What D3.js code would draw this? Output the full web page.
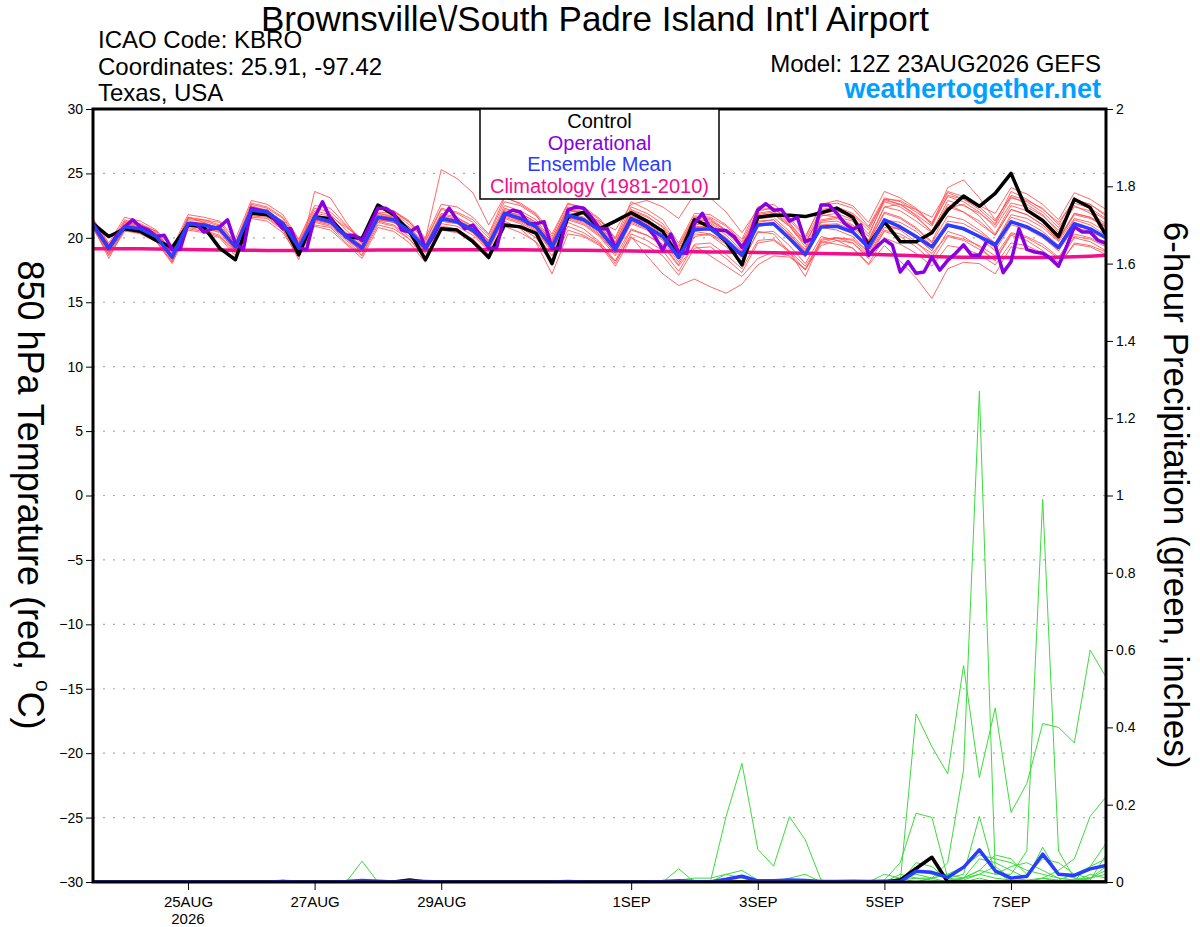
<!DOCTYPE html>
<html>
<head>
<meta charset="utf-8">
<script src="https://cdn.jsdelivr.net/npm/d3@7/dist/d3.min.js"></script>
<style>
body { margin: 0; background: #fff; }
svg { font-family: "Liberation Sans", Arial, sans-serif; display: block; }
</style>
</head>
<body>
<script>
// 6-hourly GEFS steps from 12Z 23AUG2026 (operational run is 3-hourly)
var stepHours = 6;
var opStepHours = 3;

var tickHours = [36, 84, 132, 204, 252, 300, 348];
var tickLabels = ['25AUG', '27AUG', '29AUG', '1SEP', '3SEP', '5SEP', '7SEP'];
var tempTicks = [-30, -25, -20, -15, -10, -5, 0, 5, 10, 15, 20, 25, 30];
var gridTemps = [-25, -20, -15, -10, -5, 0, 5, 10, 15, 20, 25];
var precipTicks = [0, 0.2, 0.4, 0.6, 0.8, 1, 1.2, 1.4, 1.6, 1.8, 2];

var controlTemp = [
	21.1, 20.1, 20.7, 20.5, 19.8, 19.25, 21.0, 20.85,
	19.2, 18.3, 21.9, 21.8, 21.1, 18.7, 21.6, 21.5,
	20.1, 19.95, 22.55, 21.8, 20.5, 18.3, 20.7, 20.6,
	19.7, 18.5, 21.0, 20.85, 20.35, 18.0, 21.6, 22.0,
	20.7, 21.3, 21.95, 21.3, 20.5, 18.5, 21.4, 20.85,
	19.7, 17.9, 21.6, 21.75, 21.75, 21.65, 21.95, 22.3,
	21.6, 19.45, 21.25, 19.7, 19.7, 20.4, 22.15, 23.25,
	22.45, 23.45, 25.0, 22.15, 21.35, 20.1, 23.0, 22.35,
	20.2
];

var meanTemp = [
	21.0, 19.2, 20.85, 20.7, 20.1, 18.5, 21.1, 21.0,
	20.7, 19.3, 22.15, 22.0, 21.1, 19.25, 21.6, 21.25,
	20.1, 19.2, 21.6, 21.4, 20.5, 19.2, 21.5, 21.25,
	20.6, 19.45, 21.9, 21.5, 20.85, 19.3, 21.75, 21.4,
	20.6, 19.1, 21.5, 20.85, 20.1, 18.5, 20.65, 20.7,
	19.8, 18.65, 21.0, 21.1, 19.95, 18.7, 20.85, 20.9,
	20.45, 19.25, 21.4, 20.85, 20.1, 19.3, 21.0, 20.7,
	20.1, 19.45, 21.25, 20.85, 20.2, 19.25, 21.1, 20.7,
	20.0
];

var operTemp = [
	21.1, 20.1, 19.2, 20.2, 20.85, 21.4, 20.85, 20.6,
	20.1, 20.2, 19.1, 19.1, 21.1, 21.1, 20.45, 20.7,
	20.85, 21.4, 19.55, 19.1, 22.3, 22.15, 22.0, 21.4,
	20.7, 20.7, 19.2, 19.1, 21.6, 22.8, 21.5, 20.6,
	20.2, 20.2, 19.8, 21.0, 22.3, 22.3, 21.9, 20.6,
	20.45, 20.85, 19.2, 20.1, 21.4, 22.3, 21.4, 20.7,
	21.0, 20.2, 19.2, 19.2, 21.75, 22.15, 22.0, 21.1,
	21.1, 21.25, 19.2, 19.2, 22.15, 22.4, 22.3, 21.6,
	20.7, 20.7, 19.2, 20.35, 21.5, 21.25, 20.85, 20.1,
	19.05, 20.3, 18.85, 18.8, 21.1, 21.9, 20.7, 20.6,
	20.55, 20.1, 19.25, 20.2, 22.15, 22.65, 22.15, 22.2,
	21.3, 21.6, 19.7, 19.95, 22.55, 22.55, 21.9, 21.1,
	20.65, 21.0, 18.65, 19.3, 19.85, 19.45, 17.35, 18.15,
	17.25, 17.35, 18.5, 17.5, 18.25, 18.8, 19.45, 18.65,
	18.65, 19.8, 19.45, 17.3, 18.15, 20.7, 19.1, 18.9,
	18.8, 18.4, 17.8, 19.3, 20.85, 20.45, 20.45, 19.8,
	19.6
];

var climTemp = [
	19.15, 19.15, 19.16, 19.15, 19.14, 19.12, 19.1, 19.08,
	19.06, 19.04, 19.03, 19.02, 19.02, 19.02, 19.03, 19.03,
	19.03, 19.04, 19.05, 19.05, 19.06, 19.06, 19.07, 19.07,
	19.07, 19.07, 19.07, 19.07, 19.06, 19.05, 19.04, 19.03,
	19.02, 19.0, 18.98, 18.96, 18.94, 18.93, 18.92, 18.91,
	18.9, 18.89, 18.87, 18.85, 18.83, 18.81, 18.79, 18.77,
	18.75, 18.72, 18.69, 18.65, 18.6, 18.55, 18.52, 18.5,
	18.49, 18.48, 18.47, 18.47, 18.48, 18.5, 18.53, 18.58,
	18.65
];

var memberTemps = [
	[21.2, 19.0, 21.3, 20.9, 20.4, 18.8, 21.6, 21.2,
	20.6, 19.1, 22.6, 22.3, 21.5, 19.6, 22.1, 21.8,
	20.6, 19.5, 22.0, 21.9, 21.0, 19.8, 22.3, 22.0,
	21.4, 20.2, 22.8, 22.5, 21.7, 20.1, 22.6, 22.4,
	21.5, 20.0, 22.8, 22.2, 21.4, 19.6, 21.9, 21.8,
	21.0, 19.9, 22.4, 22.6, 21.6, 20.1, 22.5, 22.7,
	22.3, 20.9, 23.1, 22.8, 22.0, 21.2, 23.5, 23.0,
	22.4, 21.3, 23.3, 22.9, 22.3, 21.0, 23.0, 22.6,
	21.8],
	[20.8, 18.6, 20.5, 20.4, 19.7, 18.2, 20.7, 20.5,
	20.1, 18.8, 21.6, 21.5, 20.6, 18.7, 21.0, 20.8,
	19.6, 18.6, 21.0, 20.7, 19.9, 18.5, 20.8, 20.6,
	19.9, 18.7, 21.1, 20.8, 20.0, 18.3, 20.9, 20.4,
	19.6, 18.0, 20.3, 19.8, 19.0, 17.4, 19.5, 19.6,
	18.7, 17.6, 19.8, 19.9, 19.0, 17.8, 19.7, 19.5,
	19.2, 18.0, 20.0, 19.5, 18.8, 17.8, 19.4, 19.2,
	18.7, 17.9, 19.6, 19.4, 18.8, 17.9, 19.5, 19.3,
	18.7],
	[21.4, 19.5, 21.0, 21.1, 20.5, 18.9, 21.5, 21.4,
	21.2, 19.6, 22.5, 22.1, 21.3, 19.7, 21.9, 21.7,
	20.8, 19.9, 22.4, 22.0, 21.2, 19.9, 25.3, 24.6,
	23.5, 21.0, 23.2, 22.6, 21.8, 19.9, 22.3, 21.9,
	21.0, 19.5, 21.8, 21.1, 20.3, 18.8, 21.0, 21.2,
	20.4, 19.2, 21.6, 21.8, 20.9, 19.3, 21.4, 21.6,
	21.3, 19.8, 22.4, 22.1, 21.3, 20.4, 22.6, 22.0,
	21.1, 20.2, 22.2, 21.8, 21.0, 19.8, 21.8, 21.5,
	20.9],
	[20.9, 19.1, 20.7, 20.5, 19.9, 18.3, 20.9, 20.8,
	20.4, 19.0, 21.9, 21.7, 20.8, 18.9, 21.3, 21.0,
	19.9, 18.9, 21.3, 21.0, 20.1, 18.8, 21.1, 20.9,
	20.2, 19.0, 21.5, 21.1, 20.3, 18.6, 21.2, 20.7,
	19.7, 18.2, 20.1, 18.6, 17.2, 16.3, 16.8, 16.2,
	15.7, 16.4, 17.9, 18.6, 18.5, 17.6, 19.4, 19.8,
	19.6, 18.6, 20.6, 20.3, 19.6, 18.8, 20.2, 19.9,
	19.4, 18.6, 20.4, 20.1, 19.5, 18.5, 20.3, 20.0,
	19.4],
	[21.0, 19.3, 21.1, 20.8, 20.2, 18.6, 21.3, 21.1,
	20.5, 19.4, 22.3, 22.2, 21.2, 19.4, 21.7, 21.4,
	20.3, 19.4, 21.8, 21.5, 20.6, 19.3, 21.6, 21.4,
	20.7, 19.6, 22.1, 21.7, 21.1, 19.5, 22.0, 21.6,
	20.8, 19.3, 21.7, 21.3, 20.5, 18.9, 21.3, 21.1,
	20.2, 19.0, 21.5, 21.6, 20.5, 19.1, 21.7, 21.9,
	21.4, 20.1, 23.0, 22.9, 22.2, 21.0, 23.9, 24.5,
	23.1, 21.4, 23.2, 22.6, 21.8, 20.4, 22.7, 22.3,
	21.5],
	[21.1, 18.9, 20.8, 20.6, 20.0, 18.4, 21.0, 20.9,
	20.6, 19.2, 22.1, 21.9, 21.0, 19.1, 21.5, 21.2,
	20.0, 19.0, 21.5, 21.3, 20.4, 19.0, 21.3, 21.1,
	20.4, 19.2, 21.7, 21.3, 20.6, 19.0, 21.5, 21.1,
	20.2, 18.8, 21.1, 20.6, 19.8, 18.1, 20.3, 20.2,
	19.3, 18.2, 20.4, 20.5, 19.4, 18.0, 20.1, 19.8,
	19.2, 17.9, 19.4, 18.2, 16.9, 15.3, 17.6, 18.1,
	18.0, 17.2, 19.3, 19.1, 18.7, 17.8, 19.6, 19.4,
	18.9],
	[21.3, 19.4, 21.4, 21.0, 20.3, 18.9, 21.4, 21.3,
	20.9, 19.5, 22.4, 21.8, 20.6, 18.3, 23.6, 23.1,
	21.2, 19.6, 21.9, 21.6, 20.8, 19.4, 21.8, 21.5,
	20.9, 19.8, 22.3, 21.9, 21.2, 19.6, 22.2, 21.8,
	20.9, 19.4, 22.0, 21.4, 20.6, 18.9, 21.4, 21.3,
	20.6, 19.4, 21.8, 22.0, 21.0, 19.5, 21.9, 22.1,
	21.6, 20.3, 22.8, 22.4, 21.6, 20.5, 22.9, 22.5,
	21.9, 21.0, 23.1, 22.8, 22.0, 20.8, 22.5, 21.9,
	21.1],
	[20.7, 18.7, 20.6, 20.5, 19.8, 18.1, 20.8, 20.6,
	20.2, 18.9, 21.7, 21.6, 20.7, 18.9, 21.2, 20.9,
	19.8, 18.7, 21.2, 20.9, 19.9, 18.3, 20.9, 20.7,
	19.9, 18.4, 21.3, 20.7, 19.6, 17.2, 20.3, 20.1,
	19.4, 18.2, 20.6, 20.2, 19.5, 17.9, 20.1, 20.3,
	19.7, 18.4, 20.9, 21.1, 20.0, 18.5, 21.0, 21.1,
	20.6, 19.2, 21.4, 21.2, 20.5, 19.4, 21.3, 21.1,
	20.4, 19.6, 21.6, 21.2, 20.5, 19.4, 21.4, 21.0,
	20.2],
	[21.2, 19.2, 21.0, 20.9, 20.3, 18.7, 21.2, 21.1,
	20.8, 19.4, 22.2, 22.0, 21.3, 19.5, 21.8, 21.5,
	20.4, 19.3, 21.7, 21.6, 20.7, 19.4, 21.7, 21.4,
	20.8, 19.7, 22.0, 21.8, 21.0, 19.5, 22.1, 21.9,
	21.3, 20.6, 22.6, 22.9, 22.4, 21.5, 23.4, 23.1,
	22.0, 20.4, 22.2, 22.3, 21.2, 19.6, 21.8, 21.6,
	21.0, 19.7, 22.0, 21.6, 20.8, 19.7, 22.3, 22.6,
	21.7, 20.3, 22.5, 22.1, 21.4, 19.9, 21.9, 21.6,
	20.8],
	[20.9, 18.9, 20.9, 20.6, 20.0, 18.5, 21.0, 21.0,
	20.7, 19.1, 22.0, 21.9, 21.0, 19.2, 21.5, 21.2,
	20.1, 19.1, 21.4, 21.3, 20.4, 19.1, 21.5, 21.2,
	20.5, 19.3, 21.8, 21.3, 20.8, 19.1, 21.6, 21.3,
	20.4, 18.9, 21.3, 20.8, 20.1, 18.4, 20.6, 20.6,
	19.8, 18.6, 21.0, 21.2, 20.2, 18.7, 20.8, 20.6,
	20.1, 18.9, 21.1, 20.6, 19.7, 18.5, 20.5, 20.1,
	19.3, 18.2, 20.2, 19.8, 19.0, 18.1, 20.0, 19.7,
	19.0],
	[21.1, 19.2, 20.8, 20.8, 20.2, 18.6, 21.0, 21.2,
	20.7, 19.2, 22.1, 22.2, 21.2, 19.3, 21.6, 21.4,
	20.2, 19.2, 21.6, 21.2, 20.5, 19.1, 21.4, 21.2,
	20.5, 19.4, 21.9, 21.6, 20.9, 19.3, 21.8, 21.5,
	20.6, 19.0, 21.5, 21.0, 20.2, 18.6, 20.8, 20.9,
	20.0, 18.8, 21.2, 21.4, 20.3, 18.9, 21.3, 21.5,
	20.9, 19.8, 22.4, 22.6, 22.2, 21.6, 23.6, 23.2,
	22.5, 21.9, 23.9, 23.4, 22.6, 21.4, 23.5, 23.0,
	22.2],
	[20.9, 18.4, 20.7, 20.6, 19.9, 18.3, 21.0, 20.7,
	20.5, 19.0, 22.0, 21.8, 20.9, 19.1, 21.4, 21.1,
	20.0, 18.9, 21.4, 21.2, 20.3, 18.9, 21.4, 21.2,
	20.4, 19.1, 21.8, 21.4, 20.7, 19.0, 21.6, 21.2,
	20.3, 18.8, 21.2, 20.7, 19.9, 18.3, 20.5, 20.3,
	19.5, 18.0, 20.5, 20.3, 18.9, 17.0, 19.8, 20.0,
	19.8, 18.7, 20.8, 20.7, 20.0, 19.0, 20.9, 20.8,
	20.1, 19.2, 21.2, 20.9, 20.2, 19.0, 20.9, 20.7,
	20.0],
	[21.3, 19.3, 21.2, 21.0, 20.5, 18.9, 21.6, 21.4,
	21.0, 19.6, 22.7, 22.4, 21.6, 19.8, 22.3, 22.0,
	20.9, 19.8, 22.2, 22.1, 21.3, 20.0, 22.6, 22.4,
	21.6, 20.3, 23.1, 22.7, 21.9, 20.3, 22.7, 22.3,
	21.4, 19.9, 22.4, 21.9, 21.1, 19.4, 21.7, 21.6,
	20.9, 19.7, 22.1, 22.3, 21.4, 20.0, 22.6, 22.9,
	22.5, 21.2, 23.6, 23.1, 22.3, 21.1, 23.2, 22.8,
	22.0, 20.8, 22.7, 22.4, 21.7, 20.6, 22.4, 22.1,
	21.4],
	[20.8, 18.8, 20.6, 20.3, 19.7, 18.0, 20.6, 20.4,
	20.0, 18.6, 21.5, 21.3, 20.4, 18.5, 20.9, 20.6,
	19.5, 18.4, 20.8, 20.5, 19.6, 18.1, 20.6, 20.4,
	19.7, 18.3, 20.9, 20.4, 19.7, 18.0, 20.6, 20.2,
	19.5, 17.8, 20.0, 19.4, 18.6, 17.1, 19.2, 19.3,
	18.4, 17.3, 19.6, 19.8, 18.9, 17.5, 19.9, 20.0,
	19.6, 18.4, 20.5, 20.1, 19.3, 18.2, 20.1, 19.8,
	19.1, 18.3, 20.3, 20.0, 19.3, 18.4, 20.1, 19.9,
	19.3],
	[21.0, 19.0, 21.0, 20.7, 20.1, 18.6, 21.2, 21.0,
	20.8, 19.3, 22.3, 22.1, 21.1, 19.4, 21.8, 21.5,
	20.3, 19.4, 21.9, 21.7, 20.8, 19.5, 21.9, 21.6,
	20.9, 19.8, 22.2, 21.9, 21.2, 19.7, 22.2, 21.9,
	21.1, 19.7, 22.1, 21.6, 20.9, 19.3, 21.6, 21.5,
	20.6, 19.5, 21.9, 22.1, 21.1, 19.8, 22.2, 22.4,
	21.9, 20.8, 22.9, 22.6, 21.8, 20.9, 23.3, 23.0,
	22.2, 21.1, 23.6, 23.0, 22.2, 21.2, 22.9, 22.6,
	21.7],
	[21.1, 19.1, 20.9, 20.8, 20.2, 18.6, 21.1, 21.0,
	20.6, 19.2, 22.2, 22.0, 21.0, 19.3, 21.7, 21.4,
	20.2, 19.1, 21.6, 21.4, 20.5, 19.2, 21.6, 21.3,
	20.6, 19.5, 22.0, 21.6, 20.9, 19.4, 21.9, 21.5,
	20.6, 19.2, 21.6, 21.0, 20.2, 18.6, 20.9, 20.8,
	20.0, 18.9, 21.3, 21.4, 20.3, 19.0, 21.2, 21.3,
	20.8, 19.6, 21.9, 21.5, 20.7, 19.6, 21.7, 21.4,
	20.6, 19.6, 21.8, 21.5, 20.8, 19.7, 21.5, 21.2,
	20.5],
	[20.9, 19.0, 20.8, 20.6, 20.0, 18.4, 21.0, 20.9,
	20.6, 19.1, 22.0, 21.8, 20.9, 19.0, 21.4, 21.1,
	20.0, 18.9, 21.4, 21.2, 20.3, 19.0, 21.3, 21.1,
	20.4, 19.2, 21.6, 21.2, 20.5, 18.9, 21.4, 21.0,
	20.1, 18.6, 20.7, 20.2, 19.4, 17.8, 19.4, 18.6,
	17.8, 17.0, 18.4, 18.9, 18.6, 17.5, 19.6, 20.0,
	19.9, 18.9, 21.0, 20.7, 20.1, 19.0, 21.0, 20.7,
	20.0, 19.0, 21.0, 20.7, 20.0, 19.0, 20.8, 20.5,
	19.9],
	[21.5, 19.6, 21.6, 21.3, 20.6, 19.2, 21.8, 21.6,
	21.3, 19.9, 22.9, 22.6, 21.8, 19.9, 22.5, 22.3,
	21.0, 19.9, 22.3, 22.1, 21.2, 19.7, 22.2, 21.9,
	21.2, 20.0, 22.5, 22.1, 21.4, 19.8, 22.4, 22.0,
	21.2, 19.6, 22.2, 21.7, 20.8, 19.1, 21.5, 21.4,
	20.5, 19.3, 21.7, 21.9, 20.9, 19.5, 22.0, 22.3,
	21.8, 20.6, 23.0, 22.6, 21.7, 20.5, 22.4, 22.0,
	21.3, 20.2, 22.2, 21.8, 21.0, 19.9, 21.9, 21.6,
	21.0]
];

var controlPrecip = [
	0, 0, 0, 0, 0, 0, 0, 0,
	0, 0, 0, 0, 0, 0, 0, 0,
	0, 0, 0, 0, 0.005, 0, 0, 0,
	0, 0, 0, 0, 0, 0, 0, 0,
	0, 0, 0, 0, 0, 0, 0, 0,
	0, 0, 0, 0, 0, 0, 0, 0,
	0, 0, 0, 0.005, 0.035, 0.064, 0, 0,
	0, 0, 0, 0, 0, 0, 0, 0,
	0
];

var meanPrecip = [
	0, 0, 0, 0, 0, 0, 0, 0,
	0, 0, 0, 0, 0.001, 0, 0, 0,
	0.001, 0.004, 0.002, 0, 0.002, 0.001, 0, 0,
	0, 0, 0, 0, 0, 0, 0.001, 0,
	0, 0, 0, 0, 0.001, 0.003, 0.001, 0,
	0.007, 0.015, 0.003, 0.003, 0.005, 0.004, 0.001, 0.001,
	0.002, 0.001, 0.002, 0.001, 0.028, 0.025, 0.012, 0.038,
	0.083, 0.029, 0.01, 0.015, 0.072, 0.02, 0.017, 0.034,
	0.043
];

var memberPrecips = [
	[0, 0, 0, 0, 0, 0, 0, 0,
	0, 0, 0, 0, 0, 0, 0, 0,
	0, 0, 0, 0, 0, 0, 0, 0,
	0, 0, 0, 0, 0, 0, 0, 0,
	0, 0, 0, 0, 0, 0, 0, 0,
	0, 0, 0, 0, 0, 0, 0, 0,
	0, 0, 0, 0, 0.435, 0.35, 0.28, 0.56,
	0.27, 0.45, 0.18, 0.255, 0.41, 0.40, 0.36, 0.60,
	0.53],
	[0, 0, 0, 0, 0, 0, 0, 0,
	0, 0, 0, 0, 0, 0, 0, 0,
	0, 0, 0, 0, 0, 0, 0, 0,
	0, 0, 0, 0, 0, 0, 0, 0,
	0, 0, 0, 0, 0, 0, 0, 0,
	0, 0, 0, 0, 0, 0, 0, 0,
	0, 0, 0, 0.01, 0.02, 0.01, 0.05, 0.29,
	1.27, 0.03, 0, 0, 0.01, 0, 0, 0.02,
	0.01],
	[0, 0, 0, 0, 0, 0, 0, 0,
	0, 0, 0, 0, 0, 0, 0, 0,
	0, 0, 0, 0, 0, 0, 0, 0,
	0, 0, 0, 0, 0, 0, 0, 0,
	0, 0, 0, 0, 0, 0, 0, 0,
	0, 0, 0, 0, 0, 0, 0, 0,
	0, 0, 0, 0, 0, 0.01, 0.02, 0.01,
	0.03, 0.02, 0.02, 0.08, 0.99, 0.08, 0.01, 0,
	0],
	[0, 0, 0, 0, 0, 0, 0, 0,
	0, 0, 0, 0, 0, 0, 0, 0,
	0, 0, 0, 0, 0, 0, 0, 0,
	0, 0, 0, 0, 0, 0, 0, 0,
	0, 0, 0, 0, 0, 0, 0, 0,
	0.17, 0.307, 0.085, 0.041, 0.169, 0.109, 0.005, 0,
	0, 0, 0, 0.005, 0.01, 0.005, 0, 0,
	0.01, 0, 0, 0, 0, 0, 0.005, 0.01,
	0.02],
	[0, 0, 0, 0, 0, 0, 0, 0,
	0, 0, 0, 0, 0, 0, 0, 0,
	0, 0, 0, 0, 0, 0, 0, 0,
	0, 0, 0, 0, 0, 0, 0, 0,
	0, 0, 0, 0, 0, 0, 0, 0,
	0, 0, 0, 0, 0, 0, 0, 0,
	0, 0, 0.005, 0.05, 0.178, 0.167, 0.01, 0.005,
	0.02, 0.01, 0.005, 0, 0.01, 0.005, 0.02, 0.04,
	0.06],
	[0, 0, 0, 0, 0, 0, 0, 0,
	0, 0, 0, 0, 0, 0, 0, 0,
	0, 0.003, 0, 0, 0, 0, 0, 0,
	0, 0, 0, 0, 0, 0, 0, 0,
	0, 0, 0, 0, 0, 0, 0, 0,
	0, 0, 0, 0, 0, 0, 0, 0,
	0, 0, 0, 0, 0, 0, 0, 0.01,
	0.02, 0.04, 0.01, 0.005, 0.01, 0.03, 0.06, 0.17,
	0.22],
	[0, 0, 0, 0, 0, 0, 0, 0,
	0, 0, 0, 0, 0, 0, 0, 0,
	0, 0, 0, 0, 0, 0, 0, 0,
	0, 0, 0, 0, 0, 0, 0, 0,
	0, 0, 0, 0, 0, 0.005, 0.01, 0.01,
	0.02, 0.01, 0, 0, 0, 0, 0, 0,
	0, 0, 0, 0.01, 0.03, 0.02, 0.01, 0.02,
	0.17, 0.02, 0.04, 0.05, 0.03, 0.01, 0.005, 0.01,
	0.03],
	[0, 0, 0, 0, 0, 0, 0, 0,
	0, 0, 0, 0, 0, 0, 0, 0,
	0, 0.054, 0, 0, 0, 0, 0, 0,
	0, 0, 0, 0, 0, 0, 0, 0,
	0, 0, 0, 0, 0, 0, 0, 0,
	0.02, 0.03, 0.005, 0, 0, 0, 0, 0,
	0, 0, 0, 0, 0.05, 0.04, 0.005, 0.01,
	0.06, 0.05, 0.03, 0.01, 0.09, 0.02, 0.01, 0.005,
	0.07],
	[0, 0, 0, 0, 0, 0, 0, 0,
	0, 0, 0, 0, 0.005, 0, 0, 0,
	0, 0, 0, 0, 0, 0, 0, 0,
	0, 0, 0, 0, 0, 0, 0, 0,
	0, 0, 0, 0, 0, 0.034, 0, 0,
	0, 0, 0, 0, 0.01, 0.02, 0, 0,
	0, 0, 0.02, 0.01, 0, 0.01, 0.02, 0.04,
	0.07, 0.06, 0.05, 0.03, 0.02, 0.01, 0.005, 0.04,
	0.1],
	[0, 0, 0, 0, 0, 0, 0, 0,
	0, 0, 0, 0, 0, 0, 0, 0,
	0, 0, 0, 0, 0, 0, 0, 0,
	0, 0, 0, 0, 0, 0, 0.003, 0,
	0, 0, 0, 0, 0, 0, 0, 0,
	0, 0, 0, 0, 0, 0, 0, 0,
	0, 0, 0, 0.02, 0.01, 0.01, 0, 0.01,
	0.03, 0.07, 0.06, 0.02, 0.06, 0.05, 0.02, 0.01,
	0.04]
];

var plotLeft = 93, plotRight = 1106, plotTop = 109, plotBottom = 882;

var x = d3.scaleLinear().domain([0, 384]).range([plotLeft, plotRight]);
var yT = d3.scaleLinear().domain([-30, 30]).range([plotBottom, plotTop]);
var yP = d3.scaleLinear().domain([0, 2]).range([plotBottom, plotTop]);

var svg = d3.select('body').append('svg')
	.attr('width', 1200)
	.attr('height', 927);

svg.append('rect')
	.attr('width', 1200)
	.attr('height', 927)
	.attr('fill', '#fff');

svg.append('clipPath')
	.attr('id', 'plot-clip')
	.append('rect')
	.attr('x', plotLeft)
	.attr('y', plotTop)
	.attr('width', plotRight - plotLeft)
	.attr('height', plotBottom - plotTop);

// dotted grid
svg.append('g')
	.classed('grid', true)
	.selectAll('line')
	.data(gridTemps)
	.join('line')
	.attr('x1', plotLeft)
	.attr('x2', plotRight)
	.attr('y1', function(d) { return yT(d); })
	.attr('y2', function(d) { return yT(d); })
	.attr('stroke', '#aaa')
	.attr('stroke-width', 1.2)
	.attr('stroke-dasharray', '2,8');

var tempLine = d3.line()
	.x(function(d, i) { return x(i * stepHours); })
	.y(function(d) { return yT(d); });

var operLine = d3.line()
	.x(function(d, i) { return x(i * opStepHours); })
	.y(function(d) { return yT(d); });

var precipLine = d3.line()
	.x(function(d, i) { return x(i * stepHours); })
	.y(function(d) { return yP(d); });

var plot = svg.append('g')
	.attr('clip-path', 'url(#plot-clip)');

plot.append('g')
	.classed('members', true)
	.selectAll('path')
	.data(memberTemps)
	.join('path')
	.attr('d', tempLine)
	.attr('fill', 'none')
	.attr('stroke', '#ff5050')
	.attr('stroke-opacity', 0.85)
	.attr('stroke-width', 1);

plot.append('g')
	.classed('member-precip', true)
	.selectAll('path')
	.data(memberPrecips)
	.join('path')
	.attr('d', precipLine)
	.attr('fill', 'none')
	.attr('stroke', '#3cdc3c')
	.attr('stroke-width', 1);

plot.append('path')
	.datum(controlPrecip)
	.attr('d', precipLine)
	.attr('fill', 'none')
	.attr('stroke', '#000')
	.attr('stroke-width', 3.5)
	.attr('stroke-linejoin', 'round');

plot.append('path')
	.datum(meanPrecip)
	.attr('d', precipLine)
	.attr('fill', 'none')
	.attr('stroke', '#2a3cff')
	.attr('stroke-width', 3.5)
	.attr('stroke-linejoin', 'round');

plot.append('path')
	.datum(climTemp)
	.attr('d', tempLine)
	.attr('fill', 'none')
	.attr('stroke', '#f0108c')
	.attr('stroke-width', 3.5);

plot.append('path')
	.datum(controlTemp)
	.attr('d', tempLine)
	.attr('fill', 'none')
	.attr('stroke', '#000')
	.attr('stroke-width', 3.5)
	.attr('stroke-linejoin', 'round');

plot.append('path')
	.datum(operTemp)
	.attr('d', operLine)
	.attr('fill', 'none')
	.attr('stroke', '#8a00e0')
	.attr('stroke-width', 3.5)
	.attr('stroke-linejoin', 'round');

plot.append('path')
	.datum(meanTemp)
	.attr('d', tempLine)
	.attr('fill', 'none')
	.attr('stroke', '#2a3cff')
	.attr('stroke-width', 3.5)
	.attr('stroke-linejoin', 'round');

// axes
var leftAxis = svg.append('g')
	.attr('transform', 'translate(' + plotLeft + ',0)')
	.call(d3.axisLeft(yT).tickValues(tempTicks).tickSize(7).tickSizeOuter(0).tickPadding(3));

var rightAxis = svg.append('g')
	.attr('transform', 'translate(' + plotRight + ',0)')
	.call(d3.axisRight(yP).tickValues(precipTicks).tickFormat(d3.format('~g')).tickSize(7).tickSizeOuter(0).tickPadding(3));

var bottomAxis = svg.append('g')
	.attr('transform', 'translate(0,' + plotBottom + ')')
	.call(d3.axisBottom(x).tickValues(tickHours)
		.tickFormat(function(d, i) { return tickLabels[i]; })
		.tickSize(8).tickSizeOuter(0).tickPadding(6));

[leftAxis, rightAxis, bottomAxis].forEach(function(axis) {
	axis.select('.domain').remove();
	axis.selectAll('.tick line').attr('stroke', '#000');
	axis.selectAll('.tick text')
		.attr('fill', '#000')
		.style('font-family', '"Liberation Sans", Arial, sans-serif');
});
leftAxis.selectAll('.tick text').style('font-size', '14px');
rightAxis.selectAll('.tick text').style('font-size', '14px');
bottomAxis.selectAll('.tick text').style('font-size', '15px');

svg.append('text')
	.attr('x', x(tickHours[0]))
	.attr('y', plotBottom + 42)
	.attr('text-anchor', 'middle')
	.style('font-size', '15px')
	.text('2026');

// frame
svg.append('rect')
	.attr('x', plotLeft)
	.attr('y', plotTop)
	.attr('width', plotRight - plotLeft)
	.attr('height', plotBottom - plotTop)
	.attr('fill', 'none')
	.attr('stroke', '#000')
	.attr('stroke-width', 3);

// legend
var legendItems = [
	{label: 'Control', color: '#000'},
	{label: 'Operational', color: '#8a00e0'},
	{label: 'Ensemble Mean', color: '#2a3cff'},
	{label: 'Climatology (1981-2010)', color: '#f0108c'}
];

var legend = svg.append('g')
	.classed('legend', true);

legend.append('rect')
	.attr('x', 480)
	.attr('y', plotTop)
	.attr('width', 239)
	.attr('height', 90)
	.attr('fill', '#fff')
	.attr('stroke', '#000')
	.attr('stroke-width', 1.5);

legend.selectAll('text')
	.data(legendItems)
	.join('text')
	.attr('x', 599.5)
	.attr('y', function(d, i) { return 128 + i * 21.7; })
	.attr('text-anchor', 'middle')
	.attr('fill', function(d) { return d.color; })
	.style('font-size', '20px')
	.text(function(d) { return d.label; });

// titles
svg.append('text')
	.attr('x', 595)
	.attr('y', 31)
	.attr('text-anchor', 'middle')
	.style('font-size', '35px')
	.text('Brownsville\\/South Padre Island Int\'l Airport');

var infoLines = ['ICAO Code: KBRO', 'Coordinates: 25.91, -97.42', 'Texas, USA'];
svg.append('g')
	.selectAll('text')
	.data(infoLines)
	.join('text')
	.attr('x', 98)
	.attr('y', function(d, i) { return 48 + i * 26.5; })
	.style('font-size', '24px')
	.text(function(d) { return d; });

svg.append('text')
	.attr('x', 1101)
	.attr('y', 72)
	.attr('text-anchor', 'end')
	.style('font-size', '24px')
	.text('Model: 12Z 23AUG2026 GEFS');

svg.append('text')
	.attr('x', 1101)
	.attr('y', 98)
	.attr('text-anchor', 'end')
	.attr('fill', '#00a0ff')
	.style('font-size', '27px')
	.style('font-weight', 'bold')
	.text('weathertogether.net');

var leftTitle = svg.append('text')
	.attr('transform', 'translate(31,495) rotate(90)')
	.attr('text-anchor', 'middle')
	.attr('dominant-baseline', 'central')
	.style('font-size', '36px');
leftTitle.append('tspan').text('850 hPa Temprature (red, ');
leftTitle.append('tspan').attr('dy', -13).style('font-size', '21px').text('o');
leftTitle.append('tspan').attr('dy', 13).text('C)');

svg.append('text')
	.attr('transform', 'translate(1176,495) rotate(90)')
	.attr('text-anchor', 'middle')
	.attr('dominant-baseline', 'central')
	.style('font-size', '35px')
	.text('6-hour Precipitation (green, inches)');
</script>
</body>
</html>
